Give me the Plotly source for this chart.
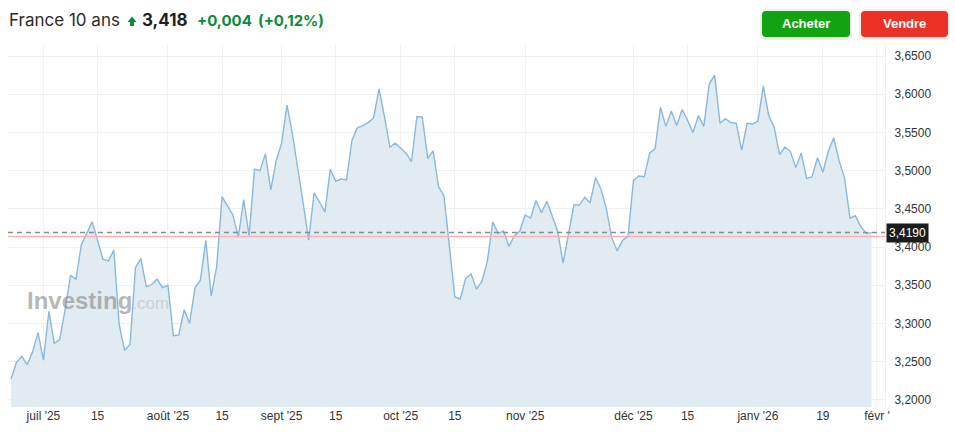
import pandas as pd
import plotly.graph_objects as go

# ---------------- data ----------------
start_date = "2025-06-23"
end_date = "2026-01-30"
dates = pd.bdate_range(start_date, end_date)

yields = [
    3.227, 3.249, 3.257, 3.246, 3.263, 3.288, 3.252, 3.316, 3.274, 3.279,
    3.318, 3.363, 3.358, 3.403, 3.418, 3.433, 3.409, 3.384, 3.382, 3.396,
    3.298, 3.265, 3.273, 3.373, 3.385, 3.348, 3.351, 3.358, 3.347, 3.350,
    3.284, 3.285, 3.318, 3.300, 3.347, 3.357, 3.409, 3.336, 3.374, 3.466,
    3.454, 3.442, 3.413, 3.462, 3.415, 3.502, 3.500, 3.522, 3.475, 3.513,
    3.536, 3.586, 3.548, 3.505, 3.457, 3.409, 3.471, 3.459, 3.446, 3.502,
    3.486, 3.489, 3.488, 3.540, 3.556, 3.559, 3.563, 3.569, 3.607, 3.571,
    3.531, 3.536, 3.529, 3.523, 3.512, 3.571, 3.570, 3.516, 3.526, 3.479,
    3.467, 3.401, 3.335, 3.332, 3.359, 3.365, 3.345, 3.355, 3.381, 3.433,
    3.418, 3.421, 3.401, 3.415, 3.421, 3.442, 3.438, 3.461, 3.445, 3.460,
    3.441, 3.421, 3.379, 3.415, 3.455, 3.455, 3.465, 3.458, 3.491, 3.476,
    3.450, 3.412, 3.395, 3.409, 3.414, 3.487, 3.493, 3.492, 3.523, 3.529,
    3.583, 3.558, 3.578, 3.559, 3.580, 3.566, 3.550, 3.572, 3.558, 3.613,
    3.625, 3.562, 3.568, 3.563, 3.562, 3.527, 3.562, 3.561, 3.565, 3.611,
    3.572, 3.557, 3.521, 3.531, 3.525, 3.504, 3.523, 3.490, 3.492, 3.517,
    3.498, 3.525, 3.543, 3.513, 3.491, 3.438, 3.441, 3.427, 3.418, 3.419,
]

last_price = 3.419
prev_close = 3.414

tick_dates = ["2025-07-01", "2025-07-15", "2025-08-01", "2025-08-15",
              "2025-09-01", "2025-09-15", "2025-10-01", "2025-10-15",
              "2025-11-03", "2025-12-01", "2025-12-15", "2026-01-01",
              "2026-01-19", "2026-02-02"]
tick_labels = ["juil '25", "15", "août '25", "15", "sept '25", "15",
               "oct '25", "15", "nov '25", "déc '25", "15", "janv '26",
               "19", "févr '"]
y_ticks = [3.20, 3.25, 3.30, 3.35, 3.40, 3.45, 3.50, 3.55, 3.60, 3.65]

title_name = "France 10 ans"
title_price = "3,418"
title_change = "+0,004"
title_pct = "(+0,12%)"

# ---------------- layout geometry ----------------
W, H = 955, 432
ML, MR, MT, MB = 8, 70, 45, 25
PW, PH = W - ML - MR, H - MT - MB


def px(x):
    return (x - ML) / PW


def py(y):
    return (H - MB - y) / PH


GREEN_TXT = "#0b8a3a"
LINE_COL = "#8ab8dd"
FILL_COL = "rgba(222,233,241,0.9)"

fig = go.Figure()
fig.add_trace(go.Scatter(
    x=dates, y=yields, mode="lines",
    line=dict(color=LINE_COL, width=1.4),
    fill="tozeroy", fillcolor=FILL_COL,
    hoverinfo="skip", showlegend=False,
))

shapes = []
# previous close (red) and last price (dashed grey)
shapes.append(dict(type="line", xref="paper", yref="y", x0=0, x1=1,
                   y0=prev_close, y1=prev_close,
                   line=dict(color="#f5b4b4", width=1.5), layer="above"))
shapes.append(dict(type="line", xref="paper", yref="y", x0=0, x1=1,
                   y0=last_price, y1=last_price,
                   line=dict(color="#8c8c8c", width=1.6, dash="5px,4px"),
                   layer="above"))


def rounded_rect(x0, y0, x1, y1, r):
    X0, X1 = px(x0), px(x1)
    Y0, Y1 = py(y0), py(y1)
    rx, ry = r / PW, r / PH
    return (f"M {X0+rx},{Y0} L {X1-rx},{Y0} Q {X1},{Y0} {X1},{Y0-ry} "
            f"L {X1},{Y1+ry} Q {X1},{Y1} {X1-rx},{Y1} L {X0+rx},{Y1} "
            f"Q {X0},{Y1} {X0},{Y1+ry} L {X0},{Y0-ry} Q {X0},{Y0} {X0+rx},{Y0} Z")


# button shadows
for (x0, x1, c) in [(762, 850, "rgba(20,160,20,0.10)"), (861, 948, "rgba(235,50,40,0.10)")]:
    shapes.append(dict(type="path", xref="paper", yref="paper",
                       path=rounded_rect(x0 - 2, 9, x1 + 2, 40, 6),
                       fillcolor=c, line=dict(width=0)))
shapes.append(dict(type="path", xref="paper", yref="paper",
                   path=rounded_rect(762, 11, 850, 37, 4),
                   fillcolor="#12a312", line=dict(width=0)))
shapes.append(dict(type="path", xref="paper", yref="paper",
                   path=rounded_rect(861, 11, 948, 37, 4),
                   fillcolor="#ec3226", line=dict(width=0)))

# green up arrow in header
ax0, ax1, axm = 127.5, 136.5, 132.0
arrow = (f"M {px(ax0)},{py(22)} L {px(axm)},{py(16.5)} L {px(ax1)},{py(22)} "
         f"L {px(134)},{py(22)} L {px(134)},{py(26)} L {px(130)},{py(26)} "
         f"L {px(130)},{py(22)} Z")
shapes.append(dict(type="path", xref="paper", yref="paper", path=arrow,
                   fillcolor=GREEN_TXT, line=dict(width=0)))

ann = []
hdr_y = py(20)
ann.append(dict(text=title_name, x=px(7), y=hdr_y, xref="paper", yref="paper",
                xanchor="left", yanchor="middle", showarrow=False,
                font=dict(family="Inter", size=17, color="#2b2b2b")))
ann.append(dict(text="<b>" + title_price + "</b>", x=px(140), y=hdr_y, xref="paper",
                yref="paper", xanchor="left", yanchor="middle", showarrow=False,
                font=dict(family="Inter", size=17, color="#1f1f1f")))
ann.append(dict(text="<b>" + title_change + "</b>", x=px(195), y=hdr_y, xref="paper",
                yref="paper", xanchor="left", yanchor="middle", showarrow=False,
                font=dict(family="Inter", size=15, color=GREEN_TXT)))
ann.append(dict(text="<b>" + title_pct + "</b>", x=px(256), y=hdr_y, xref="paper",
                yref="paper", xanchor="left", yanchor="middle", showarrow=False,
                font=dict(family="Inter", size=15, color=GREEN_TXT)))
# buttons
ann.append(dict(text="<b>Acheter</b>", x=px(806), y=py(24), xref="paper", yref="paper",
                xanchor="center", yanchor="middle", showarrow=False,
                font=dict(family="Liberation Sans, Arial", size=13, color="white")))
ann.append(dict(text="<b>Vendre</b>", x=px(904.5), y=py(24), xref="paper", yref="paper",
                xanchor="center", yanchor="middle", showarrow=False,
                font=dict(family="Liberation Sans, Arial", size=13, color="white")))
# last price tag
ann.append(dict(text="3,4190", x=1.0, y=last_price, xref="paper", yref="y",
                xanchor="left", yanchor="middle", showarrow=False,
                bgcolor="#1c1c1c", borderpad=2, xshift=1,
                font=dict(family="Liberation Sans, Arial", size=12, color="white")))
# watermark
ann.append(dict(text="<b>Investing</b><span style='font-size:17px;color:rgba(160,160,160,0.6)'>.com</span>",
                x=px(25), y=py(300), xref="paper", yref="paper",
                xanchor="left", yanchor="middle", showarrow=False,
                font=dict(family="Liberation Sans, Arial", size=24,
                          color="rgba(135,135,135,0.6)")))

fig.update_layout(
    width=W, height=H,
    margin=dict(l=ML, r=MR, t=MT, b=MB),
    paper_bgcolor="white", plot_bgcolor="white",
    separators=", ",
    shapes=shapes, annotations=ann,
    showlegend=False,
    xaxis=dict(
        type="date",
        rangebreaks=[dict(bounds=["sat", "mon"])],
        range=["2025-06-20 10:48", "2026-02-03 11:30"],
        tickmode="array", tickvals=tick_dates, ticktext=tick_labels,
        showgrid=True, gridcolor="#f2f2f2", gridwidth=1,
        zeroline=False, showline=False, ticks="",
        tickfont=dict(family="Liberation Sans, Arial", size=12, color="#333333"),
    ),
    yaxis=dict(
        side="right", range=[3.1907, 3.6645],
        tickmode="array", tickvals=y_ticks, tickformat=".4f",
        showgrid=True, gridcolor="#f0f0f0", gridwidth=1,
        zeroline=False, showline=True, linecolor="#eeeeee", linewidth=1,
        ticks="", ticklabelstandoff=6,
        tickfont=dict(family="Liberation Sans, Arial", size=12, color="#333333"),
    ),
)

fig.write_html("out.html", config={"displayModeBar": False},
               post_script="document.body.style.margin='0px';document.body.style.padding='0px';")
